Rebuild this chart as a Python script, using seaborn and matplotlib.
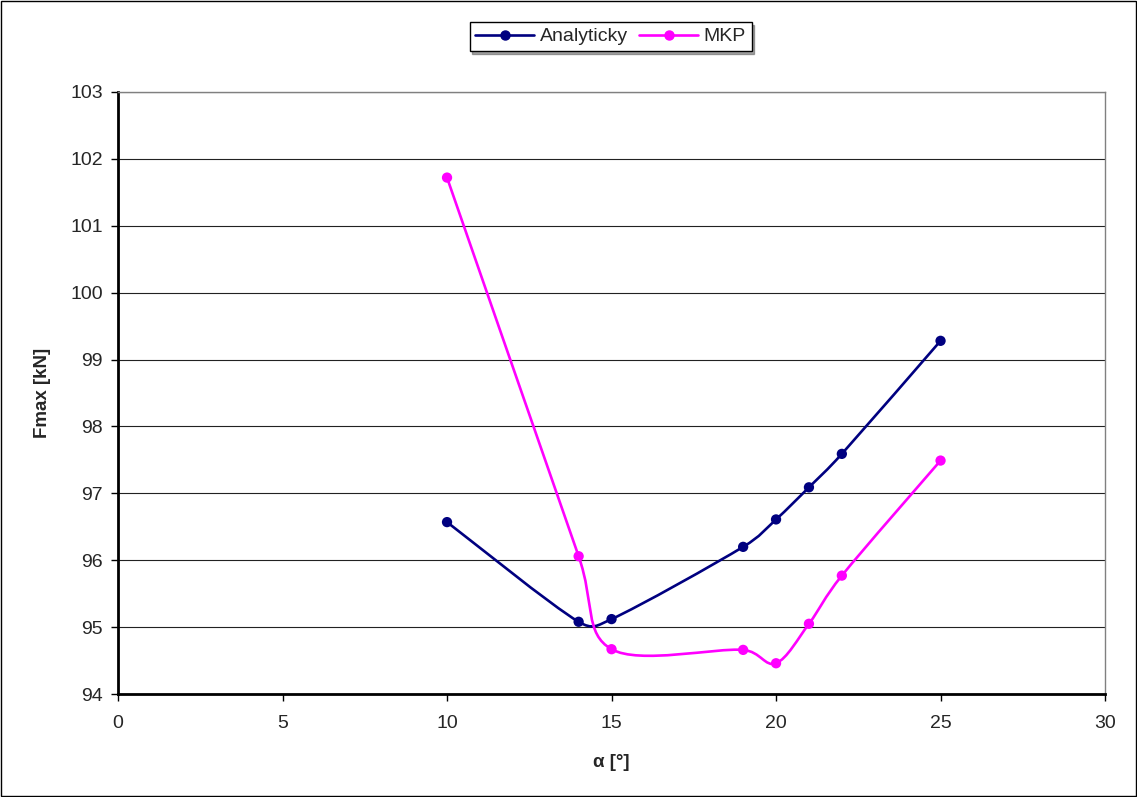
import matplotlib
matplotlib.use("Agg")
import matplotlib.pyplot as plt
import numpy as np
import pandas as pd
import seaborn as sns
from matplotlib.path import Path
from matplotlib.patches import PathPatch, Rectangle
from matplotlib.lines import Line2D

# data
alpha = [10, 14, 15, 19, 20, 21, 22, 25]
analyticky = [96.57, 95.08, 95.12, 96.20, 96.61, 97.09, 97.59, 99.28]
mkp = [101.72, 96.06, 94.67, 94.66, 94.46, 95.05, 95.77, 97.49]

series_names = ["Analyticky", "MKP"]
series_colors = {"Analyticky": "#000080", "MKP": "#FF00FF"}

df = pd.DataFrame({"alpha": alpha * 2,
                   "F": analyticky + mkp,
                   "serie": ["Analyticky"] * len(alpha) + ["MKP"] * len(alpha)})

sns.set_theme(style="white")
plt.rcParams["font.family"] = ["Liberation Sans", "DejaVu Sans"]


def smooth_path(ax, x, y):
    # Excel-like smoothed line: bezier segments, tangent arms 1/6 of the
    # neighbour chord, capped at half the segment (measured on screen)
    p = np.column_stack([x, y]).astype(float)
    s = ax.transData.transform(p)
    n = len(p)
    verts = [p[0]]
    codes = [Path.MOVETO]
    for i in range(n - 1):
        a = i - 1 if i > 0 else i
        b = i + 2 if i + 2 < n else i + 1
        d12 = np.hypot(*(s[i + 1] - s[i]))
        d02 = np.hypot(*(s[i + 1] - s[a]))
        d13 = np.hypot(*(s[b] - s[i]))
        f1 = min(1 / 6, d12 / (2 * d02)) if d02 > 0 else 0
        f2 = min(1 / 6, d12 / (2 * d13)) if d13 > 0 else 0
        c1 = p[i] + (p[i + 1] - p[a]) * f1
        c2 = p[i + 1] - (p[b] - p[i]) * f2
        verts += [c1, c2, p[i + 1]]
        codes += [Path.CURVE4] * 3
    return Path(verts, codes)


fig = plt.figure(figsize=(11.37, 7.97), dpi=100)
ax = fig.add_axes([0.1038, 0.1292, 0.8681, 0.7554])

ax.set_xlim(0, 30)
ax.set_ylim(94, 103)

for name in series_names:
    sub = df[df["serie"] == name]
    ax.add_patch(PathPatch(smooth_path(ax, sub["alpha"], sub["F"]), facecolor="none",
                           edgecolor=series_colors[name], lw=1.9, zorder=3))

sns.scatterplot(data=df, x="alpha", y="F", hue="serie", palette=series_colors,
                s=55, edgecolor="none", legend=False, ax=ax, zorder=4)

ax.set_xlim(0, 30)
ax.set_ylim(94, 103)
ax.set_xticks(range(0, 31, 5))
ax.set_yticks(range(94, 104))
ax.yaxis.grid(True, color="#222222", lw=0.8)
ax.set_axisbelow(True)

ax.set_xlabel("α [°]", fontsize=13.5, fontweight="bold", labelpad=16)
ax.set_ylabel("Fmax [kN]", fontsize=13.5, fontweight="bold", labelpad=14)
ax.tick_params(axis="both", labelsize=14, direction="out", length=5, width=1,
               color="black", bottom=True, left=True)
ax.tick_params(axis="x", pad=10)
ax.tick_params(axis="y", pad=6)

for side in ["left", "bottom"]:
    ax.spines[side].set_color("black")
    ax.spines[side].set_linewidth(2)
for side in ["top", "right"]:
    ax.spines[side].set_color("#808080")
    ax.spines[side].set_linewidth(1)

handles = [Line2D([], [], color=series_colors[n], lw=1.9, marker="o", markersize=6.5)
           for n in series_names]
leg = fig.legend(handles, series_names, loc="center", bbox_to_anchor=(0.537, 0.954),
                 ncol=2, fontsize=14, frameon=True, fancybox=False, shadow=True,
                 borderpad=0.3, handlelength=3, columnspacing=0.6, handletextpad=0.3)
leg.get_frame().set_edgecolor("black")
leg.get_frame().set_linewidth(1)

fig.patches.append(Rectangle((0.001, 0.001), 0.998, 0.998, transform=fig.transFigure,
                             fill=False, edgecolor="black", lw=1))

fig.savefig("out.png", dpi=100)
